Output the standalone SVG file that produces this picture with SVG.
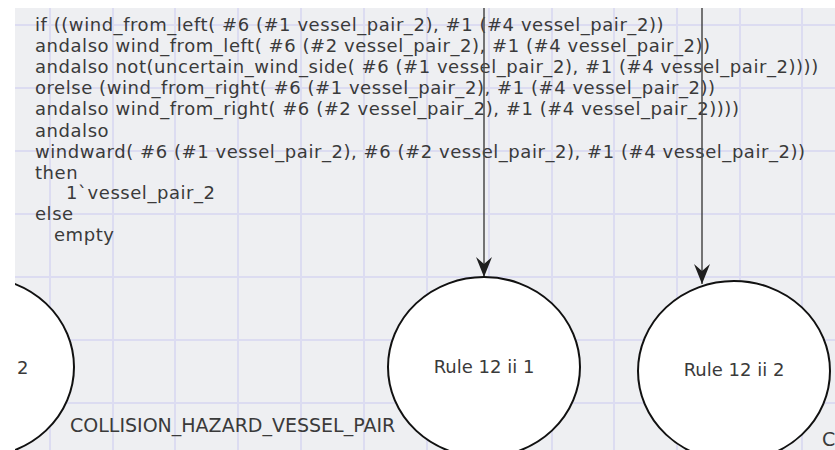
<svg xmlns="http://www.w3.org/2000/svg" width="835" height="450" viewBox="0 0 835 450">
  <style>
    .grid line { stroke: #dcdcf1; stroke-width: 2; }
    .code { font-family: "DejaVu Sans", Verdana, sans-serif; font-size: 18px; letter-spacing: 0.55px; fill: #3a3a3a; }
    .label { font-family: "DejaVu Sans", Verdana, sans-serif; font-size: 18px; fill: #3a3a3a; }
    .type { font-size: 19px; }
    .place { fill: #ffffff; stroke: #111111; stroke-width: 2; }
    .arc { stroke: #4a4a4a; stroke-width: 1.5; fill: none; }
  </style>
  <defs>
    <clipPath id="canvas">
      <rect x="15" y="8" width="820" height="442"/>
    </clipPath>
    <marker id="head" markerUnits="userSpaceOnUse" viewBox="-22 -10 24 20" refX="0" refY="0" markerWidth="24" markerHeight="20" orient="auto">
      <path d="M0,0 L-20,-8 L-13,0 L-20,8 Z" fill="#1e1e1e"/>
    </marker>
  </defs>

  <rect width="835" height="450" fill="#ffffff"/>
  <g clip-path="url(#canvas)">
    <rect x="15" y="8" width="820" height="442" fill="#eeeff2"/>

    <!-- background grid -->
    <g class="grid">
      <line x1="50" y1="0" x2="50" y2="450"/>
      <line x1="113" y1="0" x2="113" y2="450"/>
      <line x1="175" y1="0" x2="175" y2="450"/>
      <line x1="238" y1="0" x2="238" y2="450"/>
      <line x1="301" y1="0" x2="301" y2="450"/>
      <line x1="364" y1="0" x2="364" y2="450"/>
      <line x1="427" y1="0" x2="427" y2="450"/>
      <line x1="489" y1="0" x2="489" y2="450"/>
      <line x1="552" y1="0" x2="552" y2="450"/>
      <line x1="614" y1="0" x2="614" y2="450"/>
      <line x1="677" y1="0" x2="677" y2="450"/>
      <line x1="740" y1="0" x2="740" y2="450"/>
      <line x1="802" y1="0" x2="802" y2="450"/>
      <line x1="0" y1="25" x2="835" y2="25"/>
      <line x1="0" y1="88" x2="835" y2="88"/>
      <line x1="0" y1="151" x2="835" y2="151"/>
      <line x1="0" y1="214" x2="835" y2="214"/>
      <line x1="0" y1="277" x2="835" y2="277"/>
      <line x1="0" y1="340" x2="835" y2="340"/>
      <line x1="0" y1="403" x2="835" y2="403"/>
    </g>

    <!-- arc inscription -->
    <g id="inscription" class="code">
      <text x="35" y="31">if ((wind_from_left( #6 (#1 vessel_pair_2), #1 (#4 vessel_pair_2))</text>
      <text x="35" y="52">andalso wind_from_left( #6 (#2 vessel_pair_2), #1 (#4 vessel_pair_2))</text>
      <text x="35" y="73">andalso not(uncertain_wind_side( #6 (#1 vessel_pair_2), #1 (#4 vessel_pair_2))))</text>
      <text x="35" y="94">orelse (wind_from_right( #6 (#1 vessel_pair_2), #1 (#4 vessel_pair_2))</text>
      <text x="35" y="115">andalso wind_from_right( #6 (#2 vessel_pair_2), #1 (#4 vessel_pair_2))))</text>
      <text x="35" y="137">andalso</text>
      <text x="35" y="158">windward( #6 (#1 vessel_pair_2), #6 (#2 vessel_pair_2), #1 (#4 vessel_pair_2))</text>
      <text x="35" y="179">then</text>
      <text x="66" y="199">1`vessel_pair_2</text>
      <text x="35" y="220">else</text>
      <text x="54" y="241">empty</text>
    </g>

    <!-- connectors -->
    <g id="arcs">
      <line class="arc" x1="484" y1="0" x2="484" y2="277" marker-end="url(#head)"/>
      <line class="arc" x1="702" y1="0" x2="702" y2="284" marker-end="url(#head)"/>
    </g>

    <!-- places -->
    <g id="place-left">
      <ellipse class="place" cx="-22" cy="367" rx="96" ry="90"/>
      <text class="label" x="17" y="374">2</text>
      <text class="label type" x="70" y="432">COLLISION_HAZARD_VESSEL_PAIR</text>
    </g>
    <g id="rule-12-ii-1">
      <ellipse class="place" cx="484" cy="367" rx="96" ry="90"/>
      <text class="label" x="484" y="373" text-anchor="middle">Rule 12 ii 1</text>
    </g>
    <g id="rule-12-ii-2">
      <ellipse class="place" cx="734" cy="371" rx="96" ry="90"/>
      <text class="label" x="734" y="376" text-anchor="middle">Rule 12 ii 2</text>
      <text class="label type" x="822" y="446">C</text>
    </g>
  </g>
</svg>
